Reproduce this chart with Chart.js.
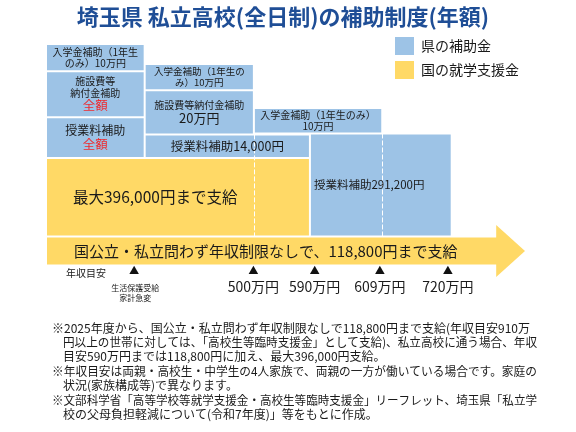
<!DOCTYPE html>
<html lang="ja">
<head>
<meta charset="utf-8">
<title>埼玉県 私立高校(全日制)の補助制度(年額)</title>
<script src="https://cdn.jsdelivr.net/npm/chart.js@4.4.1/dist/chart.umd.min.js"></script>
<style>
  html, body { margin: 0; padding: 0; background: #fff; }
  #wrap { width: 576px; height: 432px; }
</style>
</head>
<body>
<div id="wrap"><canvas id="graficoSubsidio"></canvas></div>
<script>
// ---- dados ----
const titulo = '埼玉県 私立高校(全日制)の補助制度(年額)';
const fundos = ['県の補助金', '国の就学支援金'];
const coresFundo = ['#9DC3E6', '#FFD966'];

// blocos (faixa de renda no eixo x, nível empilhado no eixo y)
const blocoTexto = [
  ['入学金補助（1年生', 'のみ）10万円'],
  ['施設費等', '納付金補助', '全額'],
  ['授業料補助', '全額'],
  ['入学金補助（1年生の', 'み）10万円'],
  ['施設費等納付金補助', '20万円'],
  ['授業料補助14,000円'],
  ['入学金補助（1年生のみ）', '10万円'],
  ['授業料補助291,200円'],
  ['最大396,000円まで支給'],
  ['国公立・私立問わず年収制限なしで、118,800円まで支給']
];
const blocoFundo = [0, 0, 0, 0, 0, 0, 0, 0, 1, 1];
const blocoX0 = [0, 0, 0, 20.6, 20.6, 20.6, 43.4, 55.1, 0, 0];
const blocoX1 = [20.6, 20.6, 20.6, 43.4, 43.4, 55.1, 70.2, 84.7, 55.1, 94.4];
const blocoBaixo = [88.3, 68.6, 51.1, 80.1, 61.2, 51.1, 61.6, 17.4, 17.4, 4.9];
const blocoAlto = [100, 88.3, 68.6, 91.4, 80.1, 61.2, 72.5, 61.6, 51.1, 17.4];

// linhas tracejadas de divisão
const divisorX = [43.4, 70.2];
const divisorBaixo = [17.4, 17.4];
const divisorAlto = [61.2, 61.6];

// marcadores de renda anual
const rotuloEixo = '年収目安';
const marcadorX = [18.4, 43.3, 56.1, 69.7, 83.9];
const marcadorTexto = [['生活保護受給', '家計急変'], ['500万円'], ['590万円'], ['609万円'], ['720万円']];

const notas = [
  '※2025年度から、国公立・私立問わず年収制限なしで118,800円まで支給(年収目安910万',
  '円以上の世帯に対しては、「高校生等臨時支援金」として支給)、私立高校に通う場合、年収',
  '目安590万円までは118,800円に加え、最大396,000円支給。',
  '※年収目安は両親・高校生・中学生の4人家族で、両親の一方が働いている場合です。家庭の',
  '状況(家族構成等)で異なります。',
  '※文部科学省「高等学校等就学支援金・高校生等臨時支援金」リーフレット、埼玉県「私立学',
  '校の父母負担軽減について(令和7年度)」等をもとに作成。'
];

// ---- estilo dos textos ----
const FONTE = '"Noto Sans CJK JP", "Noto Sans", sans-serif';
const VERMELHO = '#EE2A2E';
const tamanhos = [[10, 10], [10, 10, 12.5], [12, 12.5], [9.5, 9.5], [10, 13], [12.5], [10, 10], [11.5], [15.5], [15]];
const vermelhas = { 1: [2], 2: [1] };
const recuoEsq = { 7: 4, 8: 27, 9: 28 };   // blocos alinhados à esquerda
const SETA_PONTA = 100, SETA_CABECA = [0, 22.3], MARCA_Y = 2.5;

// barra com largura dada por x0..x1 na escala x
class RangeBarController extends Chart.BarController {
  _calculateBarIndexPixels(index) {
    const raw = this.getDataset().data[index];
    const xs = this._cachedMeta.iScale;
    const a = xs.getPixelForValue(raw.x0), b = xs.getPixelForValue(raw.x1);
    return { base: a, head: b, center: (a + b) / 2, size: b - a };
  }
}
RangeBarController.id = 'rangeBar';
RangeBarController.defaults = Chart.BarController.defaults;
RangeBarController.overrides = Chart.BarController.overrides;
Chart.register(RangeBarController);

function dadosDoFundo(f) {
  const out = [];
  blocoTexto.forEach((t, i) => {
    if (blocoFundo[i] !== f) return;
    out.push({ x: (blocoX0[i] + blocoX1[i]) / 2, y: [blocoBaixo[i], blocoAlto[i]], x0: blocoX0[i], x1: blocoX1[i], idx: i });
  });
  return out;
}

function escreveLinhas(ctx, linhas, tam, cores, x, cy, maxW) {
  const hs = tam.map(s => s * 1.15);
  let yy = cy - hs.reduce((a, b) => a + b, 0) / 2;
  linhas.forEach((t, i) => {
    ctx.font = tam[i] + 'px ' + FONTE;
    ctx.fillStyle = cores[i];
    ctx.fillText(t, x, yy + hs[i] / 2, maxW);
    yy += hs[i];
  });
}

const pluginDesenho = {
  id: 'desenhoExtra',
  afterDatasetsDraw(chart) {
    const { ctx, scales: { x, y } } = chart;
    ctx.save();
    // divisórias tracejadas
    ctx.strokeStyle = '#fff';
    ctx.lineWidth = 1;
    ctx.setLineDash([5, 2]);
    divisorX.forEach((v, i) => {
      const px = Math.round(x.getPixelForValue(v)) + 0.5;
      ctx.beginPath();
      ctx.moveTo(px, y.getPixelForValue(divisorAlto[i]));
      ctx.lineTo(px, y.getPixelForValue(divisorBaixo[i]));
      ctx.stroke();
    });
    ctx.setLineDash([]);

    // ponta da seta (a partir do bloco da seta)
    const iSeta = blocoTexto.length - 1;
    const base = x.getPixelForValue(blocoX1[iSeta]) - 2;
    const meio = y.getPixelForValue((blocoBaixo[iSeta] + blocoAlto[iSeta]) / 2);
    ctx.fillStyle = coresFundo[1];
    ctx.beginPath();
    ctx.moveTo(base, y.getPixelForValue(SETA_CABECA[1]));
    ctx.lineTo(x.getPixelForValue(SETA_PONTA), meio);
    ctx.lineTo(base, y.getPixelForValue(SETA_CABECA[0]));
    ctx.closePath();
    ctx.fill();

    // textos dos blocos
    ctx.textBaseline = 'middle';
    chart.data.datasets.forEach((ds, di) => {
      if (ds.type === 'scatter') return;
      chart.getDatasetMeta(di).data.forEach((el, j) => {
        const i = ds.data[j].idx;
        const p = el.getProps(['x', 'y', 'base', 'width']);
        const cy = (p.y + p.base) / 2;
        const cores = blocoTexto[i].map((_, k) => (vermelhas[i] || []).includes(k) ? VERMELHO : '#1a1a1a');
        if (recuoEsq[i] !== undefined) {
          ctx.textAlign = 'left';
          escreveLinhas(ctx, blocoTexto[i], tamanhos[i], cores, p.x - p.width / 2 + recuoEsq[i], cy, p.width);
        } else {
          ctx.textAlign = 'center';
          escreveLinhas(ctx, blocoTexto[i], tamanhos[i], cores, p.x, cy, p.width - 4);
        }
      });
    });
    ctx.restore();
  },
  afterDraw(chart) {
    const { ctx, scales: { x, y } } = chart;
    ctx.save();
    ctx.textBaseline = 'middle';
    // título
    ctx.textAlign = 'center';
    ctx.fillStyle = '#1F4E96';
    ctx.font = 'bold 22px ' + FONTE;
    ctx.fillText(titulo, 283, 17);

    // legenda
    ctx.textAlign = 'left';
    ctx.font = '14px ' + FONTE;
    chart.data.datasets.forEach((ds, i) => {
      if (ds.type === 'scatter') return;
      ctx.fillStyle = ds.backgroundColor;
      ctx.fillRect(395, 37 + i * 24, 19, 18);
      ctx.fillStyle = '#1a1a1a';
      ctx.fillText(ds.label, 421, 46 + i * 24);
    });

    // rótulo do eixo e marcadores
    ctx.font = '10px ' + FONTE;
    ctx.fillText(rotuloEixo, 66, 273);
    ctx.textAlign = 'center';
    const my = y.getPixelForValue(MARCA_Y);
    marcadorX.forEach((v, i) => {
      const px = x.getPixelForValue(v);
      const t = marcadorTexto[i];
      if (t.length > 1) {
        ctx.font = '8px ' + FONTE;
        t.forEach((s, k) => ctx.fillText(s, px + 1, my + 17 + k * 10));
      } else {
        ctx.font = '14px ' + FONTE;
        ctx.fillText(t[0], px, my + 15.5);
      }
    });

    // notas de rodapé
    ctx.textAlign = 'left';
    ctx.fillStyle = '#1a1a1a';
    ctx.font = '12px ' + FONTE;
    notas.forEach((s, i) => {
      const x0 = s.startsWith('※') ? 52 : 63;
      ctx.fillText(s, x0, 328 + i * 14.4, 537 - x0);
    });
    ctx.restore();
  }
};

new Chart(document.getElementById('graficoSubsidio'), {
  type: 'rangeBar',
  data: {
    datasets: [
      { label: fundos[0], data: dadosDoFundo(0), backgroundColor: coresFundo[0] },
      { label: fundos[1], data: dadosDoFundo(1), backgroundColor: coresFundo[1] },
      {
        type: 'scatter', label: rotuloEixo,
        data: marcadorX.map(v => ({ x: v, y: MARCA_Y })),
        pointStyle: 'triangle', radius: 5.5, backgroundColor: '#111', borderWidth: 0, clip: false
      }
    ]
  },
  options: {
    responsive: true,
    maintainAspectRatio: false,
    animation: false,
    events: [],
    layout: { padding: { left: 46, right: 51, top: 44, bottom: 155 } },
    datasets: {
      rangeBar: { borderWidth: 1, borderColor: '#fff', borderSkipped: false, inflateAmount: 0, grouped: false }
    },
    plugins: { legend: { display: false }, title: { display: false }, tooltip: { enabled: false } },
    scales: {
      x: { type: 'linear', min: 0, max: 100, offset: false, display: false },
      y: { type: 'linear', min: 0, max: 100, display: false }
    }
  },
  plugins: [pluginDesenho]
});
</script>
</body>
</html>
